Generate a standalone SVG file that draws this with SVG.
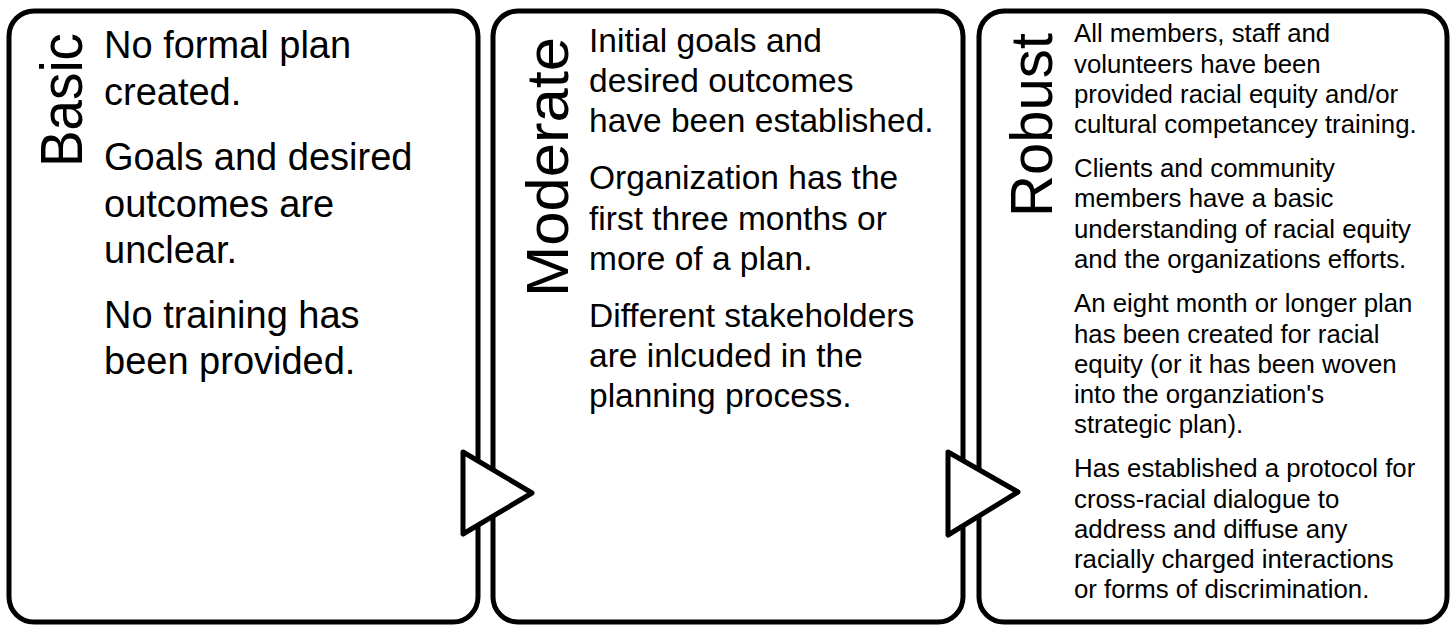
<svg xmlns="http://www.w3.org/2000/svg" width="1456" height="625" viewBox="0 0 1456 625">
<style>
.panel{fill:#ffffff;stroke:#000000;stroke-width:5}
.title{font-family:"Liberation Sans",Arial,sans-serif;font-size:60px;fill:#000000;text-anchor:end}
.t1{font-family:"Liberation Sans",Arial,sans-serif;font-size:38px;fill:#000000}
.t2{font-family:"Liberation Sans",Arial,sans-serif;font-size:33.5px;fill:#000000}
.t3{font-family:"Liberation Sans",Arial,sans-serif;font-size:25.8px;fill:#000000}
.arrow{fill:#ffffff;stroke:#000000;stroke-width:5;stroke-linejoin:round}
</style>
<rect width="1456" height="625" fill="#ffffff"/>
<g id="basic">
<rect class="panel" x="9" y="11" width="469" height="611" rx="25" ry="25"/>
<text class="title" transform="translate(82,33) rotate(-90)" textLength="134" lengthAdjust="spacingAndGlyphs">Basic</text>
<text class="t1" x="104" y="58">No formal plan</text>
<text class="t1" x="104" y="105">created.</text>
<text class="t1" x="104" y="170">Goals and desired</text>
<text class="t1" x="104" y="217">outcomes are</text>
<text class="t1" x="104" y="263">unclear.</text>
<text class="t1" x="104" y="328">No training has</text>
<text class="t1" x="104" y="374">been provided.</text>
</g>
<g id="moderate">
<rect class="panel" x="493" y="11" width="470" height="611" rx="25" ry="25"/>
<text class="title" transform="translate(568,37) rotate(-90)" textLength="260" lengthAdjust="spacingAndGlyphs">Moderate</text>
<text class="t2" x="589" y="52">Initial goals and</text>
<text class="t2" x="589" y="92">desired outcomes</text>
<text class="t2" x="589" y="132">have been established.</text>
<text class="t2" x="589" y="189">Organization has the</text>
<text class="t2" x="589" y="230">first three months or</text>
<text class="t2" x="589" y="270">more of a plan.</text>
<text class="t2" x="589" y="327">Different stakeholders</text>
<text class="t2" x="589" y="367">are inlcuded in the</text>
<text class="t2" x="589" y="407">planning process.</text>
</g>
<g id="robust">
<rect class="panel" x="979" y="11" width="468" height="611" rx="25" ry="25"/>
<text class="title" transform="translate(1052,33) rotate(-90)" textLength="184" lengthAdjust="spacingAndGlyphs">Robust</text>
<text class="t3" x="1074" y="42">All members, staff and</text>
<text class="t3" x="1074" y="73">volunteers have been</text>
<text class="t3" x="1074" y="103">provided racial equity and/or</text>
<text class="t3" x="1074" y="133">cultural competancey training.</text>
<text class="t3" x="1074" y="177">Clients and community</text>
<text class="t3" x="1074" y="207">members have a basic</text>
<text class="t3" x="1074" y="238">understanding of racial equity</text>
<text class="t3" x="1074" y="268">and the organizations efforts.</text>
<text class="t3" x="1074" y="312">An eight month or longer plan</text>
<text class="t3" x="1074" y="343">has been created for racial</text>
<text class="t3" x="1074" y="373">equity (or it has been woven</text>
<text class="t3" x="1074" y="403">into the organziation's</text>
<text class="t3" x="1074" y="433">strategic plan).</text>
<text class="t3" x="1074" y="477">Has established a protocol for</text>
<text class="t3" x="1074" y="508">cross-racial dialogue to</text>
<text class="t3" x="1074" y="538">address and diffuse any</text>
<text class="t3" x="1074" y="568">racially charged interactions</text>
<text class="t3" x="1074" y="598">or forms of discrimination.</text>
</g>
<g id="connectors">
<polygon class="arrow" points="463,452 532,493 463,534"/>
<polygon class="arrow" points="948,452 1018,492 948,535"/>
</g>
</svg>
